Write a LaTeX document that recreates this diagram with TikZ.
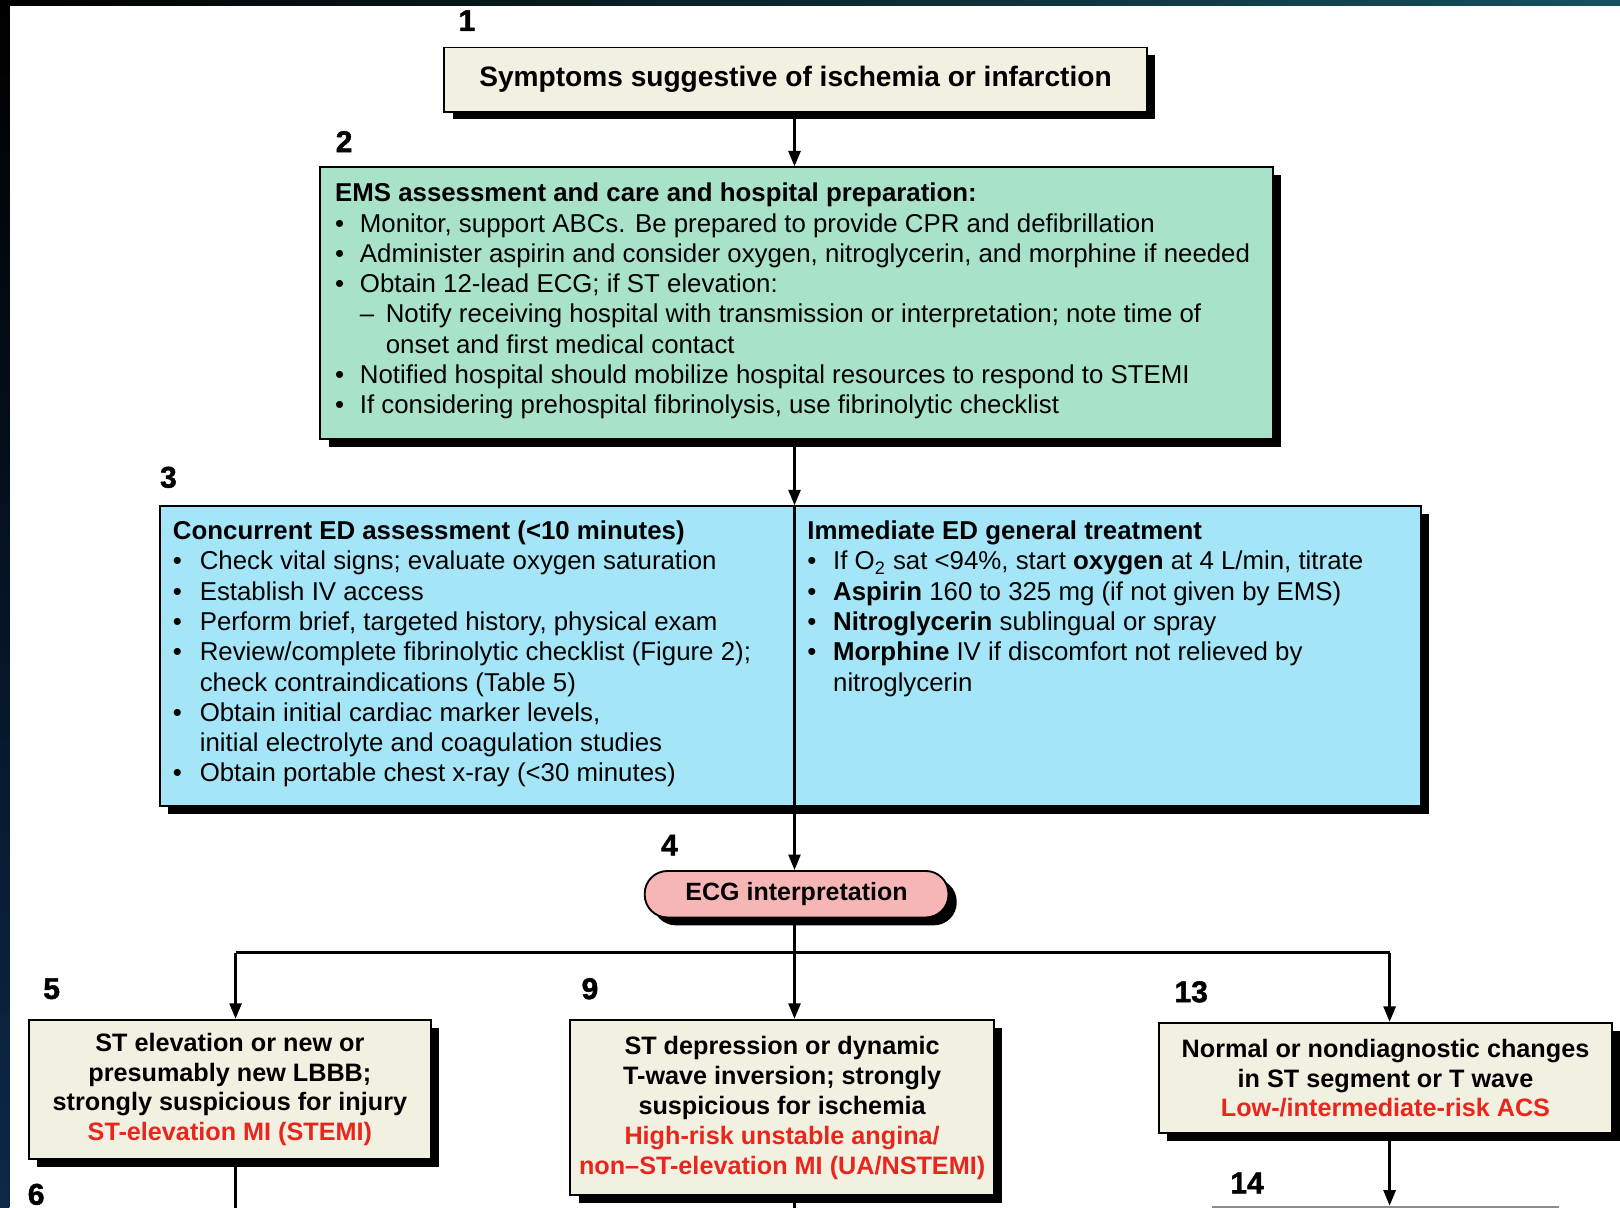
\documentclass[tikz,border=0pt]{standalone}
\usepackage{fontspec}
\setmainfont{Liberation Sans}
\newfontfamily\stepnumfont[BoldFeatures={FakeBold=1.6}]{Liberation Sans}
\usetikzlibrary{arrows.meta,shadows}

\definecolor{cream}{HTML}{F1F0E1}
\definecolor{emsgreen}{HTML}{A8E2C9}
\definecolor{edblue}{HTML}{A4E6F8}
\definecolor{ecgpink}{HTML}{F7B6B6}
\definecolor{dxred}{HTML}{E8261C}
\definecolor{edgenavy}{HTML}{0C2848}
\definecolor{edgeteal}{HTML}{16505F}

% bullet set in a fixed-width box so that item text lines up
\newcommand\bul[1]{\makebox[#1][l]{\textbullet}}

\begin{document}
\begin{tikzpicture}[x=0.5pt,y=-0.5pt,
  box/.style={draw=black,line width=0.9pt,inner sep=0pt,
    drop shadow={shadow xshift=4pt,shadow yshift=-3.8pt,fill=black,opacity=1}},
  body/.style={font=\fontsize{12.5}{14.65}\selectfont,align=left,
    inner sep=0pt,anchor=north west},
  bbody/.style={font=\bfseries\fontsize{12.2}{14.5}\selectfont,align=center},
  num/.style={font=\stepnumfont\bfseries\fontsize{14.5}{16}\selectfont,inner sep=0pt},
  wire/.style={line width=1.25pt},
  arr/.style={line width=1.25pt,-{Triangle[length=7.5pt,width=5.8pt]}}]

\useasboundingbox (0,0) rectangle (1568,1169);
\clip (0,0) rectangle (1568,1169);
\fill[white] (0,0) rectangle (1568,1169);
% dark frame along the top and left edges
\shade[left color=black,right color=edgeteal] (0,0) rectangle (1568,5);
\shade[top color=black,bottom color=edgenavy] (0,0) rectangle (9,1169);

\coordinate (spine) at (769,0);

% 1: presenting symptoms
\node[num] (n1) at (452,20) {1};
\node[box,fill=cream,minimum width=340pt,minimum height=31pt,
  font=\bfseries\fontsize{13.6}{16}\selectfont] (b1) at (770,77)
  {Symptoms suggestive of ischemia or infarction};

% 2: EMS assessment
\node[num] (n2) at (333,137) {2};
\node[box,fill=emsgreen,minimum width=461pt,minimum height=131.5pt] (b2) at (771,293.5) {};
\node[body] (t2) at (324,174.4) {\strut\textbf{EMS assessment and care and hospital preparation:}\\
  \bul{12pt}Monitor, support ABCs. Be prepared to provide CPR and defibrillation\\
  \bul{12pt}Administer aspirin and consider oxygen, nitroglycerin, and morphine if needed\\
  \bul{12pt}Obtain 12-lead ECG; if ST elevation:\\
  \hspace*{12pt}\makebox[12.5pt][l]{--}Notify receiving hospital with transmission or interpretation; note time of\\
  \hspace*{24.5pt}onset and first medical contact\\
  \bul{12pt}Notified hospital should mobilize hospital resources to respond to STEMI\\
  \bul{12pt}If considering prehospital fibrinolysis, use fibrinolytic checklist};

% 3: concurrent ED assessment and treatment
\node[num] (n3) at (163,462) {3};
\node[box,fill=edblue,minimum width=610pt,minimum height=145pt] (b3) at (765,635) {};
\node[body] (t3a) at (167,501.4) {\strut\textbf{Concurrent ED assessment (<10 minutes)}\\
  \bul{13pt}Check vital signs; evaluate oxygen saturation\\
  \bul{13pt}Establish IV access\\
  \bul{13pt}Perform brief, targeted history, physical exam\\
  \bul{13pt}Review/complete fibrinolytic checklist (Figure 2);\\
  \hspace*{13pt}check contraindications (Table 5)\\
  \bul{13pt}Obtain initial cardiac marker levels,\\
  \hspace*{13pt}initial electrolyte and coagulation studies\\
  \bul{13pt}Obtain portable chest x-ray (<30 minutes)};
\node[body] (t3b) at (781,501.4) {\strut\textbf{Immediate ED general treatment}\\
  \bul{12.5pt}If O\textsubscript{2} sat <94\%, start \textbf{oxygen} at 4 L/min, titrate\\
  \bul{12.5pt}\textbf{Aspirin} 160 to 325 mg (if not given by EMS)\\
  \bul{12.5pt}\textbf{Nitroglycerin} sublingual or spray\\
  \bul{12.5pt}\textbf{Morphine} IV if discomfort not relieved by\\
  \hspace*{12.5pt}nitroglycerin};

% 4: ECG interpretation
\node[num] (n4) at (648,818) {4};
\node[box,fill=ecgpink,rounded corners=11pt,minimum width=147pt,minimum height=22.5pt,
  font=\bfseries\fontsize{12.1}{14}\selectfont] (ecg) at (771,865.5) {ECG interpretation};

% 5, 9, 13: ECG categories
\node[num] (n5) at (50,957) {5};
\node[box,fill=cream,minimum width=194.5pt,minimum height=67.5pt,bbody] (b5) at (222.5,1054.5)
  {ST elevation or new or\\ presumably new LBBB;\\ strongly suspicious for injury\\
   \textcolor{dxred}{ST-elevation MI (STEMI)}};
\node[num] (n9) at (571,957) {9};
\node[box,fill=cream,minimum width=205pt,minimum height=85pt,bbody] (b9) at (757,1072)
  {ST depression or dynamic\\ T-wave inversion; strongly\\ suspicious for ischemia\\
   \textcolor{dxred}{High-risk unstable angina/}\\ \textcolor{dxred}{non--ST-elevation MI (UA/NSTEMI)}};
\node[num] (n13) at (1153,960) {13};
\node[box,fill=cream,minimum width=219pt,minimum height=53.5pt,bbody] (b13) at (1341,1043.5)
  {Normal or nondiagnostic changes\\ in ST segment or T wave\\
   \textcolor{dxred}{Low-/intermediate-risk ACS}};

% continuation below the fold
\node[num] (n6) at (35,1156) {6};
\node[num] (n14) at (1207,1145) {14};
\node[box,fill=cream,draw=black!45,minimum width=167pt,minimum height=40pt,anchor=north] (b14) at (1341,1167) {};

% connectors
\coordinate (jc) at (769,922);
\coordinate (jl) at (228,922);
\coordinate (jr) at (1345,922);
\coordinate (out5) at (228,1200);
\coordinate (out9) at (769,1200);

\draw[arr] (spine |- b1.south) -- (spine |- b2.north);
\draw[arr] (spine |- b2.south) -- (spine |- b3.north);
\draw[wire] (spine |- b3.north) -- (spine |- b3.south);
\draw[arr] (spine |- b3.south) -- (spine |- ecg.north);
\draw[wire] (spine |- ecg.south) -- (jc);
\draw[wire] (jl) -- (jr);
\draw[arr] (jl) -- (jl |- b5.north);
\draw[arr] (jc) -- (jc |- b9.north);
\draw[arr] (jr) -- (jr |- b13.north);
\draw[wire] (jl |- b5.south) -- (out5);
\draw[wire] (jc |- b9.south) -- (out9);
\draw[arr] (jr |- b13.south) -- (jr |- b14.north);

\end{tikzpicture}
\end{document}
